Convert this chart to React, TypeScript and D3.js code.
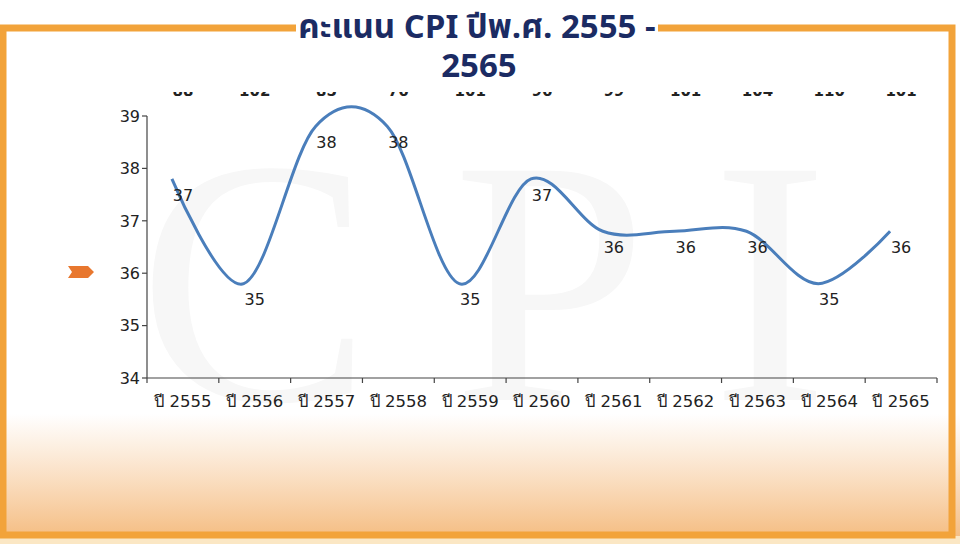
import React from "react";
import * as d3 from "d3";

const categories = ["ปี 2555", "ปี 2556", "ปี 2557", "ปี 2558", "ปี 2559", "ปี 2560", "ปี 2561", "ปี 2562", "ปี 2563", "ปี 2564", "ปี 2565"];
const labelValues = [37, 35, 38, 38, 35, 37, 36, 36, 36, 35, 36];
const lineValues = [37.8, 35.8, 38.8, 38.8, 35.8, 37.8, 36.8, 36.8, 36.8, 35.8, 36.8];
const rankLabels = ["88", "102", "85", "76", "101", "96", "99", "101", "104", "110", "101"];
const yTicks = [34, 35, 36, 37, 38, 39];
const titleLine1 = "คะแนน CPI ปีพ.ศ. 2555 -";
const titleLine2 = "2565";
const watermark = ["C", "P", "I"];

const W = 960;
const H = 544;
const NUM_FONT = "'DejaVu Sans', Verdana, sans-serif";

export default function App() {
  const x = d3.scaleBand<string>().domain(categories).range([147, 937]).padding(0);
  const y = d3.scaleLinear().domain([34, 39]).range([378, 116]);
  const bw = x.bandwidth();
  const cx = (c: string) => (x(c) as number) + bw / 2;
  const lineShift = -11;

  const pts: [number, number][] = categories.map((c, i) => [cx(c) + lineShift, y(lineValues[i])]);
  const path = d3.line().curve(d3.curveCardinal.tension(0))(pts) || "";

  const tickXs = [...categories.map((c) => x(c) as number), 937];
  const wmX = [255, 550, 770];

  return (
    <svg width={W} height={H} style={{ position: "absolute", left: 0, top: 0, background: "#fff" }}>
      <defs>
        <linearGradient id="bg" x1="0" y1="0" x2="0" y2="1">
          <stop offset="0" stopColor="#F6C38E" stopOpacity={0} />
          <stop offset="0.3" stopColor="#F6C38E" stopOpacity={0.3} />
          <stop offset="1" stopColor="#F5BE84" stopOpacity={1} />
        </linearGradient>
        <clipPath id="rankClip">
          <rect x={140} y={92} width={800} height={4.5} />
        </clipPath>
      </defs>
      <rect x={0} y={0} width={W} height={H} fill="#fff" />
      {/* watermark */}
      {watermark.map((l, i) => (
        <text key={l} x={wmX[i]} y={400} textAnchor="middle" fontFamily="'Liberation Serif', 'DejaVu Serif', serif" fontSize={350} fill="#F7F7F7">
          {l}
        </text>
      ))}
      {/* bottom gradient */}
      <rect x={0} y={414} width={W} height={122} fill="url(#bg)" />
      <rect x={0} y={536} width={W} height={8} fill="#FBE7C4" />

      {/* clipped rank labels at top */}
      <g clipPath="url(#rankClip)">
        {categories.map((c, i) => (
          <text key={c} x={cx(c)} y={96} textAnchor="middle" fontFamily={NUM_FONT} fontWeight="bold" fontSize={15} fill="#222">
            {rankLabels[i]}
          </text>
        ))}
      </g>

      {/* axes */}
      <g stroke="#444" strokeWidth={1.2} fill="none">
        <line x1={147} y1={y(39)} x2={147} y2={378} />
        <line x1={147} y1={378} x2={937} y2={378} />
        {yTicks.map((t) => (
          <line key={t} x1={142} x2={147} y1={y(t)} y2={y(t)} />
        ))}
        {tickXs.map((tx, i) => (
          <line key={i} x1={tx} x2={tx} y1={378} y2={383} />
        ))}
      </g>
      {yTicks.map((t) => (
        <text key={t} x={140} y={y(t)} dy="0.36em" textAnchor="end" fontFamily={NUM_FONT} fontSize={16} fill="#222">
          {t}
        </text>
      ))}
      {categories.map((c) => (
        <text key={c} x={cx(c)} y={407} textAnchor="middle" fontFamily={NUM_FONT} fontSize={16.5} fill="#222">
          {c}
        </text>
      ))}

      {/* line */}
      <path d={path} fill="none" stroke="#4A7EBB" strokeWidth={3} strokeLinejoin="round" />
      {categories.map((c, i) => (
        <text key={c} x={cx(c)} y={y(lineValues[i]) + 16} dy="0.36em" textAnchor="middle" fontFamily={NUM_FONT} fontSize={16} fill="#222">
          {labelValues[i]}
        </text>
      ))}

      {/* orange arrow */}
      <polygon points="68,266 88,266 94,272 88,278 68,278 72,272" fill="#E8772E" />

      {/* frame */}
      <rect x={3} y={28} width={949} height={507} fill="none" stroke="#F2A33A" strokeWidth={7} />

      {/* title */}
      <rect x={296} y={14} width={362} height={26} fill="#fff" />
      <text x={477} y={38} textAnchor="middle" fontFamily="'Noto Sans Thai', 'Noto Sans', sans-serif" fontWeight="bold" fontSize={33} fill="#1B2B63">
        {titleLine1}
      </text>
      <text x={479} y={77} textAnchor="middle" fontFamily="'Noto Sans Thai', 'Noto Sans', sans-serif" fontWeight="bold" fontSize={33} fill="#1B2B63">
        {titleLine2}
      </text>
    </svg>
  );
}
